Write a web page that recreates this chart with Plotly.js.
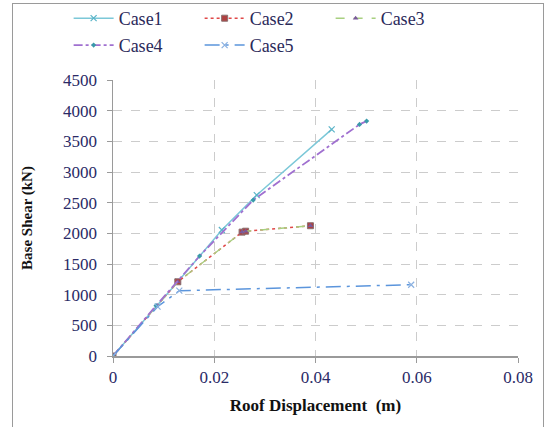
<!DOCTYPE html>
<html><head><meta charset="utf-8">
<script src="https://cdn.plot.ly/plotly-3.0.1.min.js"></script>
<style>
html,body{margin:0;padding:0;background:#fff;overflow:hidden}
#wrap{position:relative;width:549px;height:427px}
#frame{position:absolute;left:12px;top:3px;width:532px;height:440px;border:1.5px solid #9a9a9a;box-sizing:border-box;z-index:0}
#chart{position:absolute;left:0;top:0;width:549px;height:427px;z-index:1}
</style>
</head><body><div id="wrap"><div id="frame"></div><div id="chart"></div></div>
<script>
const seriesNames = ["Case1","Case2","Case3","Case4","Case5"];
const case1X = [0, 0.0128, 0.0215, 0.0284, 0.0432];
const case1Y = [0, 1210, 2054, 2624, 3695];
const case2X = [0, 0.0128, 0.0255, 0.0262, 0.0390];
const case2Y = [0, 1210, 2020, 2035, 2124];
const case3X = [0, 0.0128, 0.0255, 0.0262, 0.0390];
const case3Y = [0, 1210, 2020, 2035, 2124];
const case4X = [0, 0.0085, 0.0171, 0.0277, 0.0487, 0.0501];
const case4Y = [0, 820, 1630, 2543, 3776, 3830];
const case5X = [0, 0.0088, 0.0131, 0.0589];
const case5Y = [0, 804, 1065, 1162];
const xTicks = [0, 0.02, 0.04, 0.06, 0.08];
const xTickText = ["0","0.02","0.04","0.06","0.08"];
const yTicks = [0,500,1000,1500,2000,2500,3000,3500,4000,4500];

const serif = '"Liberation Serif", "Times New Roman", serif';
const tickCol = "#2a2a66";

const traces = [
  {x: case1X, y: case1Y, name: seriesNames[0], mode: "lines+markers", legend: "legend",
   line: {color: "#7cc8d8", width: 1.5, dash: "solid"},
   marker: {symbol: "x-thin", size: 6, line: {color: "#5ab4c8", width: 1.2}, color: "#5ab4c8"}},
  {x: case2X, y: case2Y, name: seriesNames[1], mode: "lines+markers", legend: "legend",
   line: {color: "#e04848", width: 1.5, dash: "dot"},
   marker: {symbol: "square", size: 6, color: "#b04040", line: {color: "#8a7070", width: 1}}},
  {x: case3X, y: case3Y, name: seriesNames[2], mode: "lines+markers", legend: "legend",
   line: {color: "#a8d080", width: 1.5, dash: "dash"},
   marker: {symbol: "triangle-up", size: 5, color: "#7a5a9a"}},
  {x: case4X, y: case4Y, name: seriesNames[3], mode: "lines+markers", legend: "legend2",
   line: {color: "#a070d0", width: 1.8, dash: "dashdot"},
   marker: {symbol: "diamond", size: 4, color: "#3a9aaa"}},
  {x: case5X, y: case5Y, name: seriesNames[4], mode: "lines+markers", legend: "legend2",
   line: {color: "#5b95dc", width: 1.5, dash: "longdashdot"},
   marker: {symbol: "x-thin", size: 6, line: {color: "#8ab0e0", width: 1.2}, color: "#8ab0e0"}}
];

const legendBase = {orientation: "h", xanchor: "left", yanchor: "top",
    xref: "container", yref: "container",
    entrywidth: 76, entrywidthmode: "pixels", itemwidth: 40,
    bgcolor: "rgba(255,255,255,0)",
    font: {family: serif, size: 18, color: "#2a2a5a"}};

const layout = {
  width: 549, height: 427,
  margin: {l: 113, r: 31, t: 80, b: 71, autoexpand: false},
  paper_bgcolor: "rgba(255,255,255,0)", plot_bgcolor: "#fff",
  showlegend: true,
  legend: Object.assign({}, legendBase, {x: 0.125, y: 1.0}),
  legend2: Object.assign({}, legendBase, {x: 0.125, y: 0.937}),
  xaxis: {range: [0, 0.08], tickvals: xTicks, ticktext: xTickText,
    showgrid: true, gridcolor: "#cccccc", griddash: "dash", gridwidth: 1,
    showline: true, linecolor: "#9a9a9a", linewidth: 1.5,
    ticks: "outside", ticklen: 5, tickcolor: "#9a9a9a",
    zeroline: false, automargin: false,
    tickfont: {family: serif, size: 17, color: tickCol},
    title: {text: "<b>Roof Displacement  (m)</b>", font: {family: serif, size: 17, color: "#111"}, standoff: 13}},
  yaxis: {range: [0, 4500], tickvals: yTicks,
    showgrid: true, gridcolor: "#cccccc", griddash: "dash", gridwidth: 1,
    showline: true, linecolor: "#9a9a9a", linewidth: 1.5,
    ticks: "outside", ticklen: 5, tickcolor: "#9a9a9a", ticklabelstandoff: 6,
    zeroline: false, automargin: false,
    tickfont: {family: serif, size: 17, color: tickCol},
    title: {text: "<b>Base Shear (kN)</b>", font: {family: serif, size: 15, color: "#111"}, standoff: 27}}
};
Plotly.newPlot("chart", traces, layout, {displayModeBar: false, staticPlot: true});
</script></body></html>
